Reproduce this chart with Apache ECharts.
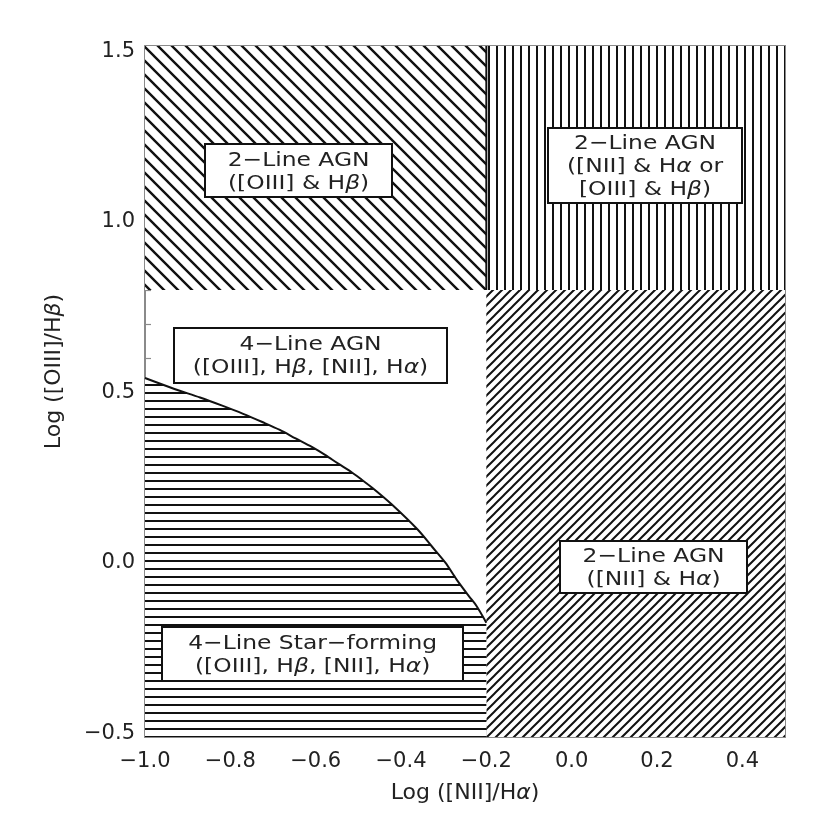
<!DOCTYPE html>
<html>
<head>
<meta charset="utf-8">
<script src="https://cdn.jsdelivr.net/npm/echarts@6/dist/echarts.min.js"></script>
<style>
  html, body { margin: 0; background: #fff; }
  #main { width: 830px; height: 830px; }
</style>
</head>
<body>
<div id="main"></div>
<script>
// axis ranges and ticks
const xRange = [-1.0, 0.5];
const yRange = [-0.51, 1.515];
const xMajorTicks = [-1.0, -0.8, -0.6, -0.4, -0.2, 0.0, 0.2, 0.4];
const xMinorTicks = [-0.95, -0.9, -0.85, -0.75, -0.7, -0.65, -0.55, -0.5, -0.45,
  -0.35, -0.3, -0.25, -0.15, -0.1, -0.05, 0.05, 0.1, 0.15, 0.25, 0.3, 0.35, 0.45];
const yMajorTicks = [-0.5, 0.0, 0.5, 1.0, 1.5];
const yMinorTicks = [-0.4, -0.3, -0.2, -0.1, 0.1, 0.2, 0.3, 0.4,
  0.6, 0.7, 0.8, 0.9, 1.1, 1.2, 1.3, 1.4];

// region boundaries
const nIIcut = -0.2;
const oIIIcut = 0.8;

// star-forming demarcation curve
const curveX = [-1.0, -0.931, -0.871, -0.819, -0.770, -0.725, -0.684, -0.647, -0.609,
  -0.577, -0.547, -0.518, -0.492, -0.466, -0.422, -0.361, -0.328, -0.296, -0.270,
  -0.241, -0.223, -0.2];
const curveY = [0.542, 0.510, 0.485, 0.461, 0.437, 0.413, 0.390, 0.365, 0.340,
  0.316, 0.291, 0.268, 0.244, 0.219, 0.172, 0.098, 0.049, 0.001, -0.048,
  -0.097, -0.126, -0.175];

// region labels and their centres (data coords)
const labelText = [
  '2−Line AGN\n([OIII] & H{i|β})',
  '2−Line AGN\n([NII] & H{i|α} or\n[OIII] & H{i|β})',
  '4−Line AGN\n([OIII], H{i|β}, [NII], H{i|α})',
  '2−Line AGN\n([NII] & H{i|α})',
  '4−Line Star−forming\n([OIII], H{i|β}, [NII], H{i|α})'
];
const labelX = [-0.640, 0.172, -0.612, 0.192, -0.607];
const labelY = [1.149, 1.165, 0.608, -0.013, -0.267];

// styling
const FONT = '"DejaVu Sans", "Liberation Sans", sans-serif';
const boxSize = [[187, 53], [194, 75], [273, 55], [187, 52], [301, 54]];
const AXIS_COLOR = '#8a8a8a';
const TEXT_COLOR = '#222';

function hatch(kind, s, w) {
  const c = document.createElement('canvas');
  c.width = s; c.height = s;
  const ctx = c.getContext('2d');
  ctx.fillStyle = '#fff';
  ctx.fillRect(0, 0, s, s);
  ctx.strokeStyle = '#111';
  ctx.fillStyle = '#111';
  ctx.lineWidth = w;
  ctx.beginPath();
  if (kind === 'h') {
    ctx.fillRect(0, 0, s, w);
  } else if (kind === 'v') {
    ctx.fillRect(0, 0, w, s);
  } else if (kind === 'slash') {
    ctx.moveTo(-1, s + 1); ctx.lineTo(s + 1, -1);
    ctx.moveTo(-1, 1); ctx.lineTo(1, -1);
    ctx.moveTo(s - 1, s + 1); ctx.lineTo(s + 1, s - 1);
    ctx.stroke();
  } else {
    ctx.moveTo(-1, -1); ctx.lineTo(s + 1, s + 1);
    ctx.moveTo(s - 1, -1); ctx.lineTo(s + 1, 1);
    ctx.moveTo(-1, s - 1); ctx.lineTo(1, s + 1);
    ctx.stroke();
  }
  return { image: c, repeat: 'repeat' };
}

const patterns = {
  back: hatch('back', 14, 2.4),
  vert: hatch('v', 8, 2),
  slash: hatch('slash', 9, 2),
  horiz: hatch('h', 8, 2)
};

const curvePts = curveX.map((x, i) => [x, curveY[i]]);
const regions = [
  { hatch: 'back', pts: [[xRange[0], oIIIcut], [nIIcut, oIIIcut], [nIIcut, yRange[1]], [xRange[0], yRange[1]]] },
  { hatch: 'vert', pts: [[nIIcut, oIIIcut], [xRange[1], oIIIcut], [xRange[1], yRange[1]], [nIIcut, yRange[1]]] },
  { hatch: 'slash', pts: [[nIIcut, yRange[0]], [xRange[1], yRange[0]], [xRange[1], oIIIcut], [nIIcut, oIIIcut]] },
  { hatch: 'horiz', pts: curvePts.concat([[nIIcut, yRange[0]], [xRange[0], yRange[0]]]) }
];

const fmt = v => (v < 0 ? '−' : '') + Math.abs(v).toFixed(1);
const richI = { i: { fontStyle: 'italic', fontSize: 22, fontFamily: FONT, color: TEXT_COLOR } };

function xAxis(pos, ticks, len, main) {
  return {
    type: 'value', min: xRange[0], max: xRange[1], position: pos,
    axisLine: { show: main, onZero: false, lineStyle: { color: AXIS_COLOR, width: 2 } },
    axisTick: { show: true, inside: true, length: len, customValues: ticks,
      lineStyle: { color: AXIS_COLOR, width: 1.2 } },
    axisLabel: main && pos === 'bottom' ? {
      show: true, customValues: xMajorTicks, formatter: fmt, margin: 14,
      fontSize: 21, fontFamily: FONT, color: TEXT_COLOR
    } : { show: false },
    splitLine: { show: false },
    name: main && pos === 'bottom' ? 'Log ([NII]/H{i|α})' : '',
    nameLocation: 'middle', nameGap: 45,
    nameTextStyle: { fontSize: 22, fontFamily: FONT, color: TEXT_COLOR, rich: richI }
  };
}
function yAxis(pos, ticks, len, main) {
  return {
    type: 'value', min: yRange[0], max: yRange[1], position: pos,
    axisLine: { show: main, onZero: false, lineStyle: { color: AXIS_COLOR, width: 2 } },
    axisTick: { show: true, inside: true, length: len, customValues: ticks,
      lineStyle: { color: AXIS_COLOR, width: 1.2 } },
    axisLabel: main && pos === 'left' ? {
      show: true, customValues: yMajorTicks, formatter: fmt, margin: 10,
      fontSize: 21, fontFamily: FONT, color: TEXT_COLOR
    } : { show: false },
    splitLine: { show: false },
    name: main && pos === 'left' ? 'Log ([OIII]/H{i|β})' : '',
    nameLocation: 'middle', nameGap: 80,
    nameTextStyle: { fontSize: 22, fontFamily: FONT, color: TEXT_COLOR, rich: richI,
      padding: [0, 0, 0, 40] }
  };
}

const chart = echarts.init(document.getElementById('main'));
chart.setOption({
  animation: false,
  backgroundColor: '#fff',
  grid: { left: 145, right: 45, top: 46, bottom: 93, containLabel: false, outerBoundsMode: 'none' },
  xAxis: [
    xAxis('bottom', xMajorTicks, 12, true),
    xAxis('bottom', xMinorTicks, 6, false),
    xAxis('top', xMajorTicks, 12, true),
    xAxis('top', xMinorTicks, 6, false)
  ],
  yAxis: [
    yAxis('left', yMajorTicks, 12, true),
    yAxis('left', yMinorTicks, 6, false),
    yAxis('right', yMajorTicks, 12, true),
    yAxis('right', yMinorTicks, 6, false)
  ],
  series: [
    {
      type: 'custom',
      xAxisIndex: 0, yAxisIndex: 0,
      clip: true,
      data: regions.map((r, i) => [i]),
      renderItem: (params, api) => {
        const r = regions[params.dataIndex];
        return {
          type: 'polygon',
          shape: { points: r.pts.map(p => api.coord(p)) },
          style: { fill: patterns[r.hatch], stroke: null }
        };
      },
      z: 1
    },
    {
      type: 'line',
      xAxisIndex: 0, yAxisIndex: 0,
      data: curvePts,
      symbol: 'none',
      smooth: 0.3,
      lineStyle: { color: '#111', width: 2 },
      z: 3
    },
    {
      type: 'line',
      xAxisIndex: 0, yAxisIndex: 0,
      data: [[nIIcut, oIIIcut], [nIIcut, yRange[1]]],
      symbol: 'none',
      lineStyle: { color: '#111', width: 2 },
      z: 3
    }
  ]
});

// label boxes placed from data coordinates
const graphics = [];
labelText.forEach((t, i) => {
  const c = chart.convertToPixel({ gridIndex: 0 }, [labelX[i], labelY[i]]);
  const [w, h] = boxSize[i];
  graphics.push({
    type: 'rect', z: 100,
    shape: { x: Math.round(c[0] - w / 2), y: Math.round(c[1] - h / 2), width: w, height: h },
    style: { fill: '#fff', stroke: '#111', lineWidth: 2 }
  });
  graphics.push({
    type: 'text', z: 101, x: c[0], y: c[1] + 1, scaleX: 1.17,
    style: {
      text: t, align: 'center', verticalAlign: 'middle',
      fontSize: 20, fontFamily: FONT, fill: TEXT_COLOR, lineHeight: 23,
      rich: { i: { fontStyle: 'italic', fontSize: 20, fontFamily: FONT, fill: TEXT_COLOR, lineHeight: 23 } }
    }
  });
});
chart.setOption({ graphic: graphics });
</script>
</body>
</html>
